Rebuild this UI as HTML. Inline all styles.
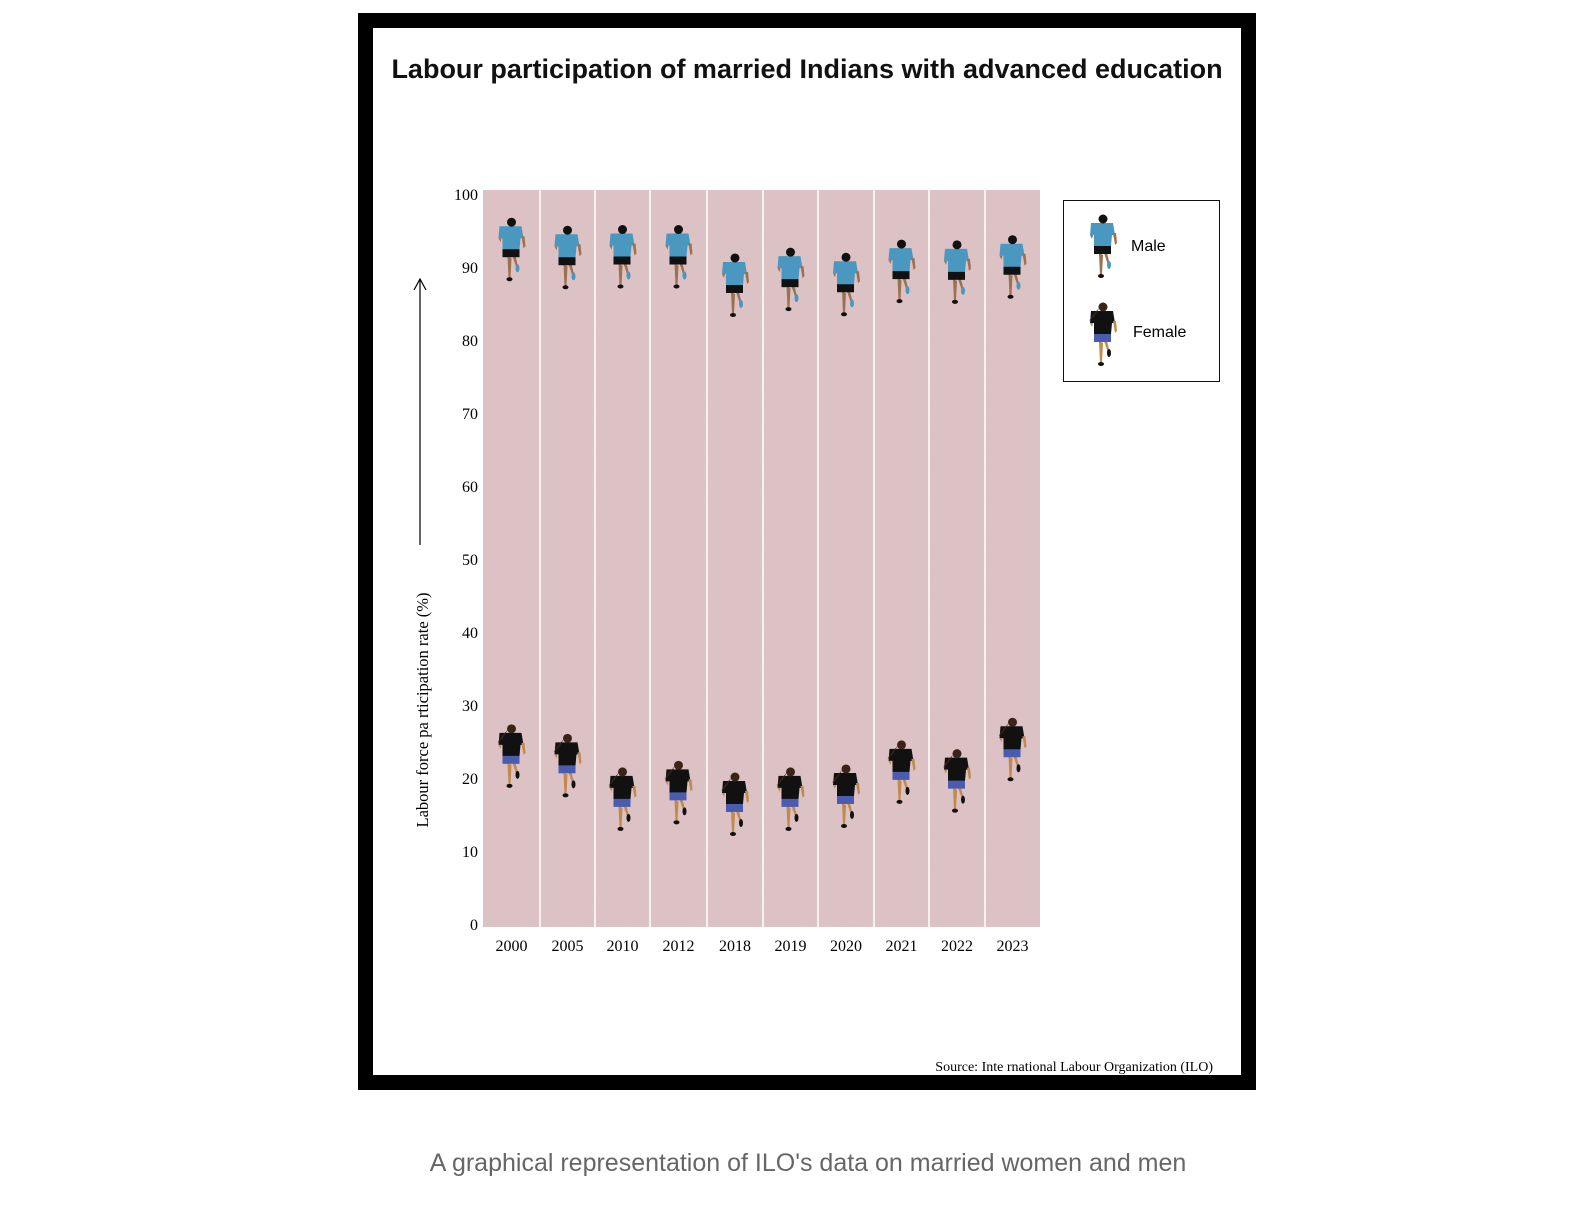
<!DOCTYPE html>
<html><head><meta charset="utf-8"><style>
body{margin:0;background:#fff;width:1596px;height:1224px;overflow:hidden;font-family:"Liberation Sans",sans-serif}
#frame{position:absolute;left:358px;top:13px;width:868px;height:1047px;border:15px solid #000;background:#fff}
#title{position:absolute;left:374px;width:866px;top:54px;text-align:center;font-weight:bold;font-size:27px;color:#111}
#cap{position:absolute;left:0;width:1616px;top:1149px;text-align:center;font-size:25px;color:#666}
</style></head><body>
<div id="frame"></div>
<div id="title">Labour participation of married Indians with advanced education</div>
<svg id="chart" width="1596" height="1224" style="position:absolute;left:0;top:0">
<defs>
<filter id="noise"><feTurbulence type="fractalNoise" baseFrequency="0.9" numOctaves="1" seed="3"/><feColorMatrix values="0 0 0 0 1  0 0 0 0 1  0 0 0 0 1  0 0 0 6 -4.3"/></filter>
</defs>
<g id="plot"></g>
<g id="axes"></g>
<g id="legend">
<rect x="1063.5" y="200.5" width="156" height="181" fill="#fff" stroke="#111"/>
<text x="1131" y="251" font-size="16" font-family="Liberation Sans">Male</text>
<text x="1133" y="337" font-size="16" font-family="Liberation Sans">Female</text>
</g>
<g>
<line x1="420" y1="545" x2="420" y2="280" stroke="#000" stroke-width="1.2"/>
<path d="M414 290 L420 279 L426 290" fill="none" stroke="#000" stroke-width="1.2"/>
<text transform="translate(428,710) rotate(-90)" text-anchor="middle" font-size="16.5" font-family="Liberation Serif">Labour force pa  rticipation rate (%)</text>
</g>
<text x="1213" y="1071" text-anchor="end" font-size="14" font-family="Liberation Serif">Source: Inte rnational Labour Organization (ILO)</text>
</svg>
<div id="cap">A graphical representation of ILO's data on married women and men</div>
<script>
const years=["2000","2005","2010","2012","2018","2019","2020","2021","2022","2023"];
const maleValues=[92.3,91.2,91.3,91.3,87.4,88.2,87.5,89.3,89.2,89.9];
const femaleValues=[22.9,21.6,17.0,17.9,16.3,17.0,17.4,20.7,19.5,23.8];
const yTicks=[0,10,20,30,40,50,60,70,80,90,100];
const laneEdges=[483,540,595,650,707,763,818,874,929,985,1040];
const y0=924,y100=194;
function yy(v){return y0+(y100-y0)*v/100;}
const NS="http://www.w3.org/2000/svg";
function mk(tag,attrs,parent){const e=document.createElementNS(NS,tag);for(const k in attrs)e.setAttribute(k,attrs[k]);parent.appendChild(e);return e;}
const plot=document.getElementById('plot'),axes=document.getElementById('axes');
const bg=mk('rect',{x:483,y:190,width:557,height:737,fill:'#dcc1c5'},plot);


mk('rect',{x:483,y:190,width:557,height:737,filter:'url(#noise)',opacity:0.5},plot);
for(let i=1;i<laneEdges.length-1;i++){
 const l=mk('line',{x1:laneEdges[i],y1:190,x2:laneEdges[i],y2:927,stroke:'#fff','stroke-width':1.5},plot);
 
 
}
function runner(cx,cy,male,parent){
 const g=mk('g',{transform:`translate(${cx},${cy})`},parent);
 const skin=male?'#9b7150':'#c08a4e',shirt=male?'#4a98c0':'#111',shorts=male?'#111':'#4a5cb0';
 mk('path',{d:'M-4 6 L-3 28 L-1 28 L0 8 Z',fill:skin},g);
 mk('path',{d:'M1 6 L5 18 L7 18 L4 6 Z',fill:skin},g);
 mk('ellipse',{cx:-2,cy:29,rx:3,ry:2,fill:'#111'},g);
 mk('ellipse',{cx:6,cy:18,rx:2,ry:4,fill:male?'#4a98c0':'#111'},g);
 mk('rect',{x:-9,y:-2,width:17,height:9,fill:shorts},g);
 mk('path',{d:'M-12 -24 L10 -24 L12 -12 L9 -12 L8 -1 L-9 -1 L-9 -12 L-13 -12 Z',fill:shirt},g);
 mk('path',{d:'M-13 -12 L-11 -8 L-10 -12 Z',fill:skin},g);
 mk('path',{d:'M10 -14 L12 -2 L14 -4 L13 -14 Z',fill:skin},g);
 if(male){mk('circle',{cx:0,cy:-28,r:4.5,fill:'#111'},g);}
 else{mk('circle',{cx:0,cy:-28,r:4.5,fill:'#3a2418'},g);mk('path',{d:'M-4 -27 Q-8 -18 -14 -14 L-10 -20 Z',fill:'#3a2418'},g);}
 return g;
}
years.forEach((yr,i)=>{
 const cx=(laneEdges[i]+laneEdges[i+1])/2;
 const m=runner(cx,yy(maleValues[i]),true,plot);
 
 
 const f=runner(cx,yy(femaleValues[i]),false,plot);
 
 
 const t=mk('text',{x:cx,y:951,'text-anchor':'middle','font-size':16,'font-family':'Liberation Serif'},axes);
 t.textContent=yr;
 
 
});
yTicks.forEach(v=>{
 const t=mk('text',{x:478,y:yy(v)+6,'text-anchor':'end','font-size':16,'font-family':'Liberation Serif'},axes);
 t.textContent=v;
 
 
});
const lg=document.getElementById('legend');
const lm=runner(1103,247,true,lg);


const lf=runner(1103,335,false,lg);


</script>
</body></html>
